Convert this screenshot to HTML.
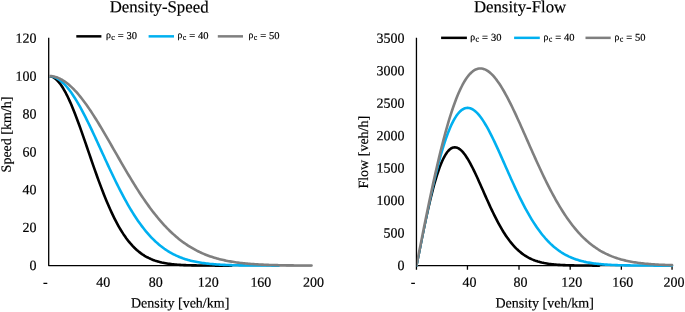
<!DOCTYPE html>
<html><head><meta charset="utf-8"><title>Density-Speed / Density-Flow</title>
<style>
html,body{margin:0;padding:0;background:#fff;}
svg{display:block;text-rendering:geometricPrecision;font-family:"Liberation Serif","DejaVu Serif",serif;fill:#000;}
text{stroke:#000;stroke-width:0.18px;}
.c{fill:none;stroke-width:2.6;stroke-linecap:round;stroke-linejoin:round;}
.ax{stroke:#000;stroke-width:1.3;stroke-linejoin:round;fill:none;}
.t{font-size:14px;}
.lg{font-size:10.5px;}
.ti{font-size:16.8px;}
</style></head><body>
<svg width="685" height="312" viewBox="0 0 685 312">
<rect width="685" height="312" fill="#fff"/>

<text class="ti" x="159.15" y="12.35" text-anchor="middle" transform="rotate(0.03 159.15 12.35)">Density-Speed</text>
<text class="t" x="36.45" y="269.95" text-anchor="end" transform="rotate(0.03 36.45 269.95)">0</text>
<text class="t" x="36.45" y="232.10" text-anchor="end" transform="rotate(0.03 36.45 232.10)">20</text>
<text class="t" x="36.45" y="194.25" text-anchor="end" transform="rotate(0.03 36.45 194.25)">40</text>
<text class="t" x="36.45" y="156.40" text-anchor="end" transform="rotate(0.03 36.45 156.40)">60</text>
<text class="t" x="36.45" y="118.55" text-anchor="end" transform="rotate(0.03 36.45 118.55)">80</text>
<text class="t" x="36.45" y="80.70" text-anchor="end" transform="rotate(0.03 36.45 80.70)">100</text>
<text class="t" x="36.45" y="42.85" text-anchor="end" transform="rotate(0.03 36.45 42.85)">120</text>
<text class="t" x="45.30" y="286.70" text-anchor="middle" transform="rotate(0.03 45.30 286.70)">-</text>
<text class="t" x="103.17" y="286.70" text-anchor="middle" transform="rotate(0.03 103.17 286.70)">40</text>
<text class="t" x="155.74" y="286.70" text-anchor="middle" transform="rotate(0.03 155.74 286.70)">80</text>
<text class="t" x="208.31" y="286.70" text-anchor="middle" transform="rotate(0.03 208.31 286.70)">120</text>
<text class="t" x="260.88" y="286.70" text-anchor="middle" transform="rotate(0.03 260.88 286.70)">160</text>
<text class="t" x="313.45" y="286.70" text-anchor="middle" transform="rotate(0.03 313.45 286.70)">200</text>
<text class="t" x="180.12" y="307.60" text-anchor="middle" transform="rotate(0.03 180.12 307.60)">Density [veh/km]</text>
<text class="t" transform="translate(10.9,134.5) rotate(-89.96)" text-anchor="middle">Speed [km/h]</text>
<path class="ax" d="M48.7,37.80 V265.6 H311.55"/>
<clipPath id="clipd"><rect x="49.00" y="0" width="266.85" height="268.10"/></clipPath>
<clipPath id="clipdu40"><polygon points="45.70,75.98 48.70,75.98 50.01,76.03 51.33,76.21 52.64,76.51 53.96,76.92 55.27,77.45 56.59,78.10 57.90,78.86 59.21,79.73 60.53,80.71 61.84,81.81 63.16,83.01 64.47,84.32 65.79,85.73 67.10,87.24 68.41,88.85 69.73,90.55 71.04,92.35 72.36,94.23 73.67,96.20 74.98,98.26 76.30,100.39 77.61,102.59 78.93,104.87 80.24,107.21 81.56,109.62 82.87,112.08 84.18,114.61 85.50,117.18 86.81,119.80 88.13,122.46 89.44,125.17 90.76,127.90 92.07,130.67 93.38,133.47 94.70,136.29 96.01,139.12 97.33,141.98 98.64,144.84 99.96,147.71 101.27,150.59 102.58,153.46 103.90,156.33 105.21,159.20 106.53,162.05 107.84,164.89 109.16,167.71 110.47,170.52 111.78,173.30 113.10,176.06 114.41,178.78 115.73,181.48 117.04,184.15 118.36,186.77 119.67,189.37 120.98,191.92 122.30,194.43 123.61,196.90 124.93,199.33 126.24,201.71 127.56,204.04 128.87,206.32 130.18,208.56 131.50,210.74 132.81,212.88 134.13,214.96 135.44,216.99 136.75,218.97 138.07,220.90 139.38,222.77 140.70,224.59 142.01,226.36 143.33,228.07 144.64,229.74 145.95,231.35 147.27,232.90 148.58,234.41 149.90,235.87 151.21,237.27 152.53,238.63 153.84,239.94 155.15,241.20 156.47,242.41 157.78,243.57 159.10,244.69 160.41,245.77 161.73,246.80 163.04,247.79 164.35,248.74 165.67,249.65 166.98,250.51 168.30,251.34 169.61,252.14 170.93,252.89 172.24,253.61 173.55,254.30 174.87,254.96 176.18,255.58 177.50,256.17 178.81,256.73 180.12,257.27 181.44,257.78 182.75,258.26 184.07,258.71 185.38,259.14 186.70,259.55 188.01,259.94 189.32,260.30 190.64,260.65 191.95,260.97 193.27,261.28 194.58,261.57 195.90,261.84 197.21,262.09 198.52,262.33 199.84,262.56 201.15,262.77 202.47,262.97 203.78,263.16 205.10,263.33 206.41,263.49 207.72,263.65 209.04,263.79 210.35,263.92 211.67,264.05 212.98,264.16 214.30,264.27 215.61,264.37 216.92,264.47 218.24,264.55 219.55,264.64 220.87,264.71 222.18,264.78 223.50,264.85 224.81,264.91 226.12,264.96 227.44,265.01 228.75,265.06 230.07,265.11 231.38,265.15 232.69,265.19 234.01,265.22 235.32,265.25 236.64,265.28 237.95,265.31 239.27,265.33 240.58,265.36 241.89,265.38 243.21,265.40 244.52,265.42 245.84,265.43 247.15,265.45 248.47,265.46 249.78,265.47 251.09,265.49 252.41,265.50 253.72,265.51 255.04,265.51 256.35,265.52 257.67,265.53 258.98,265.54 260.29,265.54 261.61,265.55 262.92,265.55 264.24,265.56 265.55,265.56 266.87,265.57 268.18,265.57 269.49,265.57 270.81,265.57 272.12,265.58 273.44,265.58 274.75,265.58 276.07,265.58 277.38,265.59 278.69,265.59 280.01,265.59 281.32,265.59 282.64,265.59 283.95,265.59 285.27,265.59 286.58,265.59 287.89,265.59 289.21,265.59 290.52,265.60 291.84,265.60 293.15,265.60 294.46,265.60 295.78,265.60 297.09,265.60 298.41,265.60 299.72,265.60 301.04,265.60 302.35,265.60 303.66,265.60 304.98,265.60 306.29,265.60 307.61,265.60 308.92,265.60 310.24,265.60 311.55,265.60 316.55,265.60 316.55,270.60 45.70,270.60"/></clipPath>
<clipPath id="clipdu50"><polygon points="45.70,75.98 48.70,75.98 50.01,76.01 51.33,76.13 52.64,76.32 53.96,76.58 55.27,76.92 56.59,77.34 57.90,77.82 59.21,78.39 60.53,79.02 61.84,79.73 63.16,80.51 64.47,81.36 65.79,82.28 67.10,83.26 68.41,84.32 69.73,85.44 71.04,86.62 72.36,87.87 73.67,89.18 74.98,90.55 76.30,91.98 77.61,93.47 78.93,95.01 80.24,96.61 81.56,98.26 82.87,99.95 84.18,101.70 85.50,103.49 86.81,105.33 88.13,107.21 89.44,109.13 90.76,111.09 92.07,113.09 93.38,115.12 94.70,117.18 96.01,119.27 97.33,121.39 98.64,123.54 99.96,125.71 101.27,127.90 102.58,130.12 103.90,132.35 105.21,134.59 106.53,136.85 107.84,139.12 109.16,141.41 110.47,143.69 111.78,145.99 113.10,148.29 114.41,150.59 115.73,152.89 117.04,155.18 118.36,157.48 119.67,159.77 120.98,162.05 122.30,164.32 123.61,166.59 124.93,168.84 126.24,171.08 127.56,173.30 128.87,175.51 130.18,177.70 131.50,179.87 132.81,182.02 134.13,184.15 135.44,186.25 136.75,188.33 138.07,190.39 139.38,192.43 140.70,194.43 142.01,196.41 143.33,198.36 144.64,200.28 145.95,202.18 147.27,204.04 148.58,205.87 149.90,207.67 151.21,209.44 152.53,211.17 153.84,212.88 155.15,214.55 156.47,216.19 157.78,217.79 159.10,219.36 160.41,220.90 161.73,222.40 163.04,223.87 164.35,225.30 165.67,226.71 166.98,228.07 168.30,229.41 169.61,230.71 170.93,231.98 172.24,233.21 173.55,234.41 174.87,235.58 176.18,236.72 177.50,237.82 178.81,238.90 180.12,239.94 181.44,240.95 182.75,241.93 184.07,242.88 185.38,243.80 186.70,244.69 188.01,245.56 189.32,246.39 190.64,247.20 191.95,247.98 193.27,248.74 194.58,249.47 195.90,250.17 197.21,250.85 198.52,251.50 199.84,252.14 201.15,252.74 202.47,253.33 203.78,253.89 205.10,254.43 206.41,254.96 207.72,255.46 209.04,255.94 210.35,256.40 211.67,256.84 212.98,257.27 214.30,257.68 215.61,258.07 216.92,258.44 218.24,258.80 219.55,259.14 220.87,259.47 222.18,259.79 223.50,260.09 224.81,260.37 226.12,260.65 227.44,260.91 228.75,261.16 230.07,261.40 231.38,261.62 232.69,261.84 234.01,262.04 235.32,262.24 236.64,262.43 237.95,262.60 239.27,262.77 240.58,262.93 241.89,263.08 243.21,263.23 244.52,263.36 245.84,263.49 247.15,263.62 248.47,263.73 249.78,263.84 251.09,263.95 252.41,264.05 253.72,264.14 255.04,264.23 256.35,264.31 257.67,264.39 258.98,264.47 260.29,264.54 261.61,264.60 262.92,264.67 264.24,264.73 265.55,264.78 266.87,264.83 268.18,264.88 269.49,264.93 270.81,264.97 272.12,265.01 273.44,265.05 274.75,265.09 276.07,265.12 277.38,265.16 278.69,265.19 280.01,265.21 281.32,265.24 282.64,265.26 283.95,265.29 285.27,265.31 286.58,265.33 287.89,265.35 289.21,265.37 290.52,265.38 291.84,265.40 293.15,265.41 294.46,265.43 295.78,265.44 297.09,265.45 298.41,265.46 299.72,265.47 301.04,265.48 302.35,265.49 303.66,265.50 304.98,265.51 306.29,265.51 307.61,265.52 308.92,265.53 310.24,265.53 311.55,265.54 316.55,265.54 316.55,270.60 45.70,270.60"/></clipPath>
<g clip-path="url(#clipd)">
<g clip-path="url(#clipdu40)"><polyline class="c" stroke="#000000" points="48.70,75.98 50.01,76.08 51.33,76.40 52.64,76.92 53.96,77.65 55.27,78.59 56.59,79.73 57.90,81.07 59.21,82.60 60.53,84.32 61.84,86.22 63.16,88.30 64.47,90.55 65.79,92.97 67.10,95.54 68.41,98.26 69.73,101.11 71.04,104.10 72.36,107.21 73.67,110.43 74.98,113.76 76.30,117.18 77.61,120.68 78.93,124.26 80.24,127.90 81.56,131.60 82.87,135.35 84.18,139.12 85.50,142.93 86.81,146.75 88.13,150.59 89.44,154.42 90.76,158.24 92.07,162.05 93.38,165.83 94.70,169.59 96.01,173.30 97.33,176.97 98.64,180.59 99.96,184.15 101.27,187.64 102.58,191.07 103.90,194.43 105.21,197.71 106.53,200.92 107.84,204.04 109.16,207.07 110.47,210.02 111.78,212.88 113.10,215.64 114.41,218.32 115.73,220.90 117.04,223.38 118.36,225.78 119.67,228.07 120.98,230.28 122.30,232.39 123.61,234.41 124.93,236.34 126.24,238.18 127.56,239.94 128.87,241.61 130.18,243.19 131.50,244.69 132.81,246.12 134.13,247.47 135.44,248.74 136.75,249.94 138.07,251.07 139.38,252.14 140.70,253.14 142.01,254.08 143.33,254.96 144.64,255.78 145.95,256.55 147.27,257.27 148.58,257.94 149.90,258.56 151.21,259.14 152.53,259.68 153.84,260.18 155.15,260.65 156.47,261.08 157.78,261.47 159.10,261.84 160.41,262.17 161.73,262.49 163.04,262.77 164.35,263.03 165.67,263.27 166.98,263.49 168.30,263.69 169.61,263.88 170.93,264.05 172.24,264.20 173.55,264.34 174.87,264.47 176.18,264.58 177.50,264.69 178.81,264.78 180.12,264.87 181.44,264.94 182.75,265.01 184.07,265.08 185.38,265.13 186.70,265.19 188.01,265.23 189.32,265.27 190.64,265.31 191.95,265.34 193.27,265.37 194.58,265.40 195.90,265.42 197.21,265.44 198.52,265.46 199.84,265.48 201.15,265.49 202.47,265.51 203.78,265.52 205.10,265.53 206.41,265.54 207.72,265.54 209.04,265.55 210.35,265.56 211.67,265.56 212.98,265.57 214.30,265.57 215.61,265.58 216.92,265.58 218.24,265.58 219.55,265.58 220.87,265.59 222.18,265.59 223.50,265.59 224.81,265.59 226.12,265.59 227.44,265.59 228.75,265.59 230.07,265.60 231.38,265.60"/></g>
<g clip-path="url(#clipdu50)"><polyline class="c" stroke="#00b0f0" points="48.70,75.98 50.01,76.03 51.33,76.21 52.64,76.51 53.96,76.92 55.27,77.45 56.59,78.10 57.90,78.86 59.21,79.73 60.53,80.71 61.84,81.81 63.16,83.01 64.47,84.32 65.79,85.73 67.10,87.24 68.41,88.85 69.73,90.55 71.04,92.35 72.36,94.23 73.67,96.20 74.98,98.26 76.30,100.39 77.61,102.59 78.93,104.87 80.24,107.21 81.56,109.62 82.87,112.08 84.18,114.61 85.50,117.18 86.81,119.80 88.13,122.46 89.44,125.17 90.76,127.90 92.07,130.67 93.38,133.47 94.70,136.29 96.01,139.12 97.33,141.98 98.64,144.84 99.96,147.71 101.27,150.59 102.58,153.46 103.90,156.33 105.21,159.20 106.53,162.05 107.84,164.89 109.16,167.71 110.47,170.52 111.78,173.30 113.10,176.06 114.41,178.78 115.73,181.48 117.04,184.15 118.36,186.77 119.67,189.37 120.98,191.92 122.30,194.43 123.61,196.90 124.93,199.33 126.24,201.71 127.56,204.04 128.87,206.32 130.18,208.56 131.50,210.74 132.81,212.88 134.13,214.96 135.44,216.99 136.75,218.97 138.07,220.90 139.38,222.77 140.70,224.59 142.01,226.36 143.33,228.07 144.64,229.74 145.95,231.35 147.27,232.90 148.58,234.41 149.90,235.87 151.21,237.27 152.53,238.63 153.84,239.94 155.15,241.20 156.47,242.41 157.78,243.57 159.10,244.69 160.41,245.77 161.73,246.80 163.04,247.79 164.35,248.74 165.67,249.65 166.98,250.51 168.30,251.34 169.61,252.14 170.93,252.89 172.24,253.61 173.55,254.30 174.87,254.96 176.18,255.58 177.50,256.17 178.81,256.73 180.12,257.27 181.44,257.78 182.75,258.26 184.07,258.71 185.38,259.14 186.70,259.55 188.01,259.94 189.32,260.30 190.64,260.65 191.95,260.97 193.27,261.28 194.58,261.57 195.90,261.84 197.21,262.09 198.52,262.33 199.84,262.56 201.15,262.77 202.47,262.97 203.78,263.16 205.10,263.33 206.41,263.49 207.72,263.65 209.04,263.79 210.35,263.92 211.67,264.05 212.98,264.16 214.30,264.27 215.61,264.37 216.92,264.47 218.24,264.55 219.55,264.64 220.87,264.71 222.18,264.78 223.50,264.85 224.81,264.91 226.12,264.96 227.44,265.01 228.75,265.06 230.07,265.11 231.38,265.15 232.69,265.19 234.01,265.22 235.32,265.25 236.64,265.28 237.95,265.31 239.27,265.33 240.58,265.36 241.89,265.38 243.21,265.40 244.52,265.42 245.84,265.43 247.15,265.45 248.47,265.46 249.78,265.47 251.09,265.49 252.41,265.50 253.72,265.51 255.04,265.51 256.35,265.52 257.67,265.53 258.98,265.54 260.29,265.54 261.61,265.55 262.92,265.55 264.24,265.56 265.55,265.56 266.87,265.57 268.18,265.57 269.49,265.57 270.81,265.57 272.12,265.58 273.44,265.58 274.75,265.58 276.07,265.58 277.38,265.59 278.69,265.59"/></g>
<polyline class="c" stroke="#7f7f7f" points="48.70,75.98 50.01,76.01 51.33,76.13 52.64,76.32 53.96,76.58 55.27,76.92 56.59,77.34 57.90,77.82 59.21,78.39 60.53,79.02 61.84,79.73 63.16,80.51 64.47,81.36 65.79,82.28 67.10,83.26 68.41,84.32 69.73,85.44 71.04,86.62 72.36,87.87 73.67,89.18 74.98,90.55 76.30,91.98 77.61,93.47 78.93,95.01 80.24,96.61 81.56,98.26 82.87,99.95 84.18,101.70 85.50,103.49 86.81,105.33 88.13,107.21 89.44,109.13 90.76,111.09 92.07,113.09 93.38,115.12 94.70,117.18 96.01,119.27 97.33,121.39 98.64,123.54 99.96,125.71 101.27,127.90 102.58,130.12 103.90,132.35 105.21,134.59 106.53,136.85 107.84,139.12 109.16,141.41 110.47,143.69 111.78,145.99 113.10,148.29 114.41,150.59 115.73,152.89 117.04,155.18 118.36,157.48 119.67,159.77 120.98,162.05 122.30,164.32 123.61,166.59 124.93,168.84 126.24,171.08 127.56,173.30 128.87,175.51 130.18,177.70 131.50,179.87 132.81,182.02 134.13,184.15 135.44,186.25 136.75,188.33 138.07,190.39 139.38,192.43 140.70,194.43 142.01,196.41 143.33,198.36 144.64,200.28 145.95,202.18 147.27,204.04 148.58,205.87 149.90,207.67 151.21,209.44 152.53,211.17 153.84,212.88 155.15,214.55 156.47,216.19 157.78,217.79 159.10,219.36 160.41,220.90 161.73,222.40 163.04,223.87 164.35,225.30 165.67,226.71 166.98,228.07 168.30,229.41 169.61,230.71 170.93,231.98 172.24,233.21 173.55,234.41 174.87,235.58 176.18,236.72 177.50,237.82 178.81,238.90 180.12,239.94 181.44,240.95 182.75,241.93 184.07,242.88 185.38,243.80 186.70,244.69 188.01,245.56 189.32,246.39 190.64,247.20 191.95,247.98 193.27,248.74 194.58,249.47 195.90,250.17 197.21,250.85 198.52,251.50 199.84,252.14 201.15,252.74 202.47,253.33 203.78,253.89 205.10,254.43 206.41,254.96 207.72,255.46 209.04,255.94 210.35,256.40 211.67,256.84 212.98,257.27 214.30,257.68 215.61,258.07 216.92,258.44 218.24,258.80 219.55,259.14 220.87,259.47 222.18,259.79 223.50,260.09 224.81,260.37 226.12,260.65 227.44,260.91 228.75,261.16 230.07,261.40 231.38,261.62 232.69,261.84 234.01,262.04 235.32,262.24 236.64,262.43 237.95,262.60 239.27,262.77 240.58,262.93 241.89,263.08 243.21,263.23 244.52,263.36 245.84,263.49 247.15,263.62 248.47,263.73 249.78,263.84 251.09,263.95 252.41,264.05 253.72,264.14 255.04,264.23 256.35,264.31 257.67,264.39 258.98,264.47 260.29,264.54 261.61,264.60 262.92,264.67 264.24,264.73 265.55,264.78 266.87,264.83 268.18,264.88 269.49,264.93 270.81,264.97 272.12,265.01 273.44,265.05 274.75,265.09 276.07,265.12 277.38,265.16 278.69,265.19 280.01,265.21 281.32,265.24 282.64,265.26 283.95,265.29 285.27,265.31 286.58,265.33 287.89,265.35 289.21,265.37 290.52,265.38 291.84,265.40 293.15,265.41 294.46,265.43 295.78,265.44 297.09,265.45 298.41,265.46 299.72,265.47 301.04,265.48 302.35,265.49 303.66,265.50 304.98,265.51 306.29,265.51 307.61,265.52 308.92,265.53 310.24,265.53 311.55,265.54"/>
</g>
<line x1="76.3" x2="101.4" y1="36.35" y2="36.35" stroke="#000000" stroke-width="2.5"/>
<text class="lg" x="105.90" y="38.90" transform="rotate(0.03 105.90 38.90)"><tspan font-size="9.8" dy="-0.8">ρ</tspan><tspan font-size="8" dy="1.7" x="111.20">c</tspan><tspan dy="-0.9" x="117.70">=</tspan><tspan x="126.50">30</tspan></text>
<line x1="148.6" x2="174.0" y1="36.35" y2="36.35" stroke="#00b0f0" stroke-width="2.5"/>
<text class="lg" x="177.50" y="38.90" transform="rotate(0.03 177.50 38.90)"><tspan font-size="9.8" dy="-0.8">ρ</tspan><tspan font-size="8" dy="1.7" x="182.80">c</tspan><tspan dy="-0.9" x="189.30">=</tspan><tspan x="198.10">40</tspan></text>
<line x1="217.8" x2="243.0" y1="36.35" y2="36.35" stroke="#7f7f7f" stroke-width="2.5"/>
<text class="lg" x="248.40" y="38.90" transform="rotate(0.03 248.40 38.90)"><tspan font-size="9.8" dy="-0.8">ρ</tspan><tspan font-size="8" dy="1.7" x="253.70">c</tspan><tspan dy="-0.9" x="260.20">=</tspan><tspan x="269.00">50</tspan></text>
<text class="ti" x="520.05" y="12.35" text-anchor="middle" transform="rotate(0.03 520.05 12.35)">Density-Flow</text>
<text class="t" x="404.50" y="269.95" text-anchor="end" transform="rotate(0.03 404.50 269.95)">0</text>
<text class="t" x="404.50" y="237.51" text-anchor="end" transform="rotate(0.03 404.50 237.51)">500</text>
<text class="t" x="404.50" y="205.06" text-anchor="end" transform="rotate(0.03 404.50 205.06)">1000</text>
<text class="t" x="404.50" y="172.62" text-anchor="end" transform="rotate(0.03 404.50 172.62)">1500</text>
<text class="t" x="404.50" y="140.18" text-anchor="end" transform="rotate(0.03 404.50 140.18)">2000</text>
<text class="t" x="404.50" y="107.74" text-anchor="end" transform="rotate(0.03 404.50 107.74)">2500</text>
<text class="t" x="404.50" y="75.29" text-anchor="end" transform="rotate(0.03 404.50 75.29)">3000</text>
<text class="t" x="404.50" y="42.85" text-anchor="end" transform="rotate(0.03 404.50 42.85)">3500</text>
<text class="t" x="413.05" y="286.70" text-anchor="middle" transform="rotate(0.03 413.05 286.70)">-</text>
<text class="t" x="469.47" y="286.70" text-anchor="middle" transform="rotate(0.03 469.47 286.70)">40</text>
<text class="t" x="520.59" y="286.70" text-anchor="middle" transform="rotate(0.03 520.59 286.70)">80</text>
<text class="t" x="571.71" y="286.70" text-anchor="middle" transform="rotate(0.03 571.71 286.70)">120</text>
<text class="t" x="622.83" y="286.70" text-anchor="middle" transform="rotate(0.03 622.83 286.70)">160</text>
<text class="t" x="673.95" y="286.70" text-anchor="middle" transform="rotate(0.03 673.95 286.70)">200</text>
<text class="t" x="544.65" y="307.60" text-anchor="middle" transform="rotate(0.03 544.65 307.60)">Density [veh/km]</text>
<text class="t" transform="translate(368.1,152.2) rotate(-89.96)" text-anchor="middle">Flow [veh/h]</text>
<path class="ax" d="M416.45,37.80 V265.6 H672.05 M416.45,265.6 v4.25 M467.45,265.6 v4.25 M519.00,265.6 v4.25 M570.20,265.6 v4.25 M621.35,265.6 v4.25 M672.05,265.6 v4.25"/>
<clipPath id="clipw"><rect x="416.75" y="0" width="259.60" height="268.10"/></clipPath>
<clipPath id="clipwu40"><polygon points="413.45,265.60 416.45,265.60 417.73,259.10 419.01,252.61 420.28,246.15 421.56,239.72 422.84,233.35 424.12,227.03 425.40,220.78 426.67,214.62 427.95,208.55 429.23,202.59 430.51,196.74 431.79,191.02 433.06,185.43 434.34,179.99 435.62,174.70 436.90,169.57 438.18,164.62 439.45,159.84 440.73,155.25 442.01,150.85 443.29,146.65 444.57,142.65 445.84,138.85 447.12,135.27 448.40,131.90 449.68,128.75 450.96,125.82 452.23,123.12 453.51,120.63 454.79,118.37 456.07,116.34 457.35,114.53 458.62,112.94 459.90,111.57 461.18,110.42 462.46,109.49 463.74,108.78 465.01,108.27 466.29,107.97 467.57,107.87 468.85,107.97 470.13,108.25 471.40,108.73 472.68,109.39 473.96,110.22 475.24,111.22 476.52,112.38 477.79,113.70 479.07,115.17 480.35,116.77 481.63,118.51 482.91,120.38 484.18,122.36 485.46,124.46 486.74,126.66 488.02,128.96 489.30,131.34 490.57,133.81 491.85,136.35 493.13,138.96 494.41,141.62 495.69,144.34 496.96,147.11 498.24,149.91 499.52,152.75 500.80,155.61 502.08,158.49 503.35,161.38 504.63,164.28 505.91,167.18 507.19,170.07 508.47,172.96 509.74,175.84 511.02,178.69 512.30,181.53 513.58,184.33 514.86,187.11 516.13,189.85 517.41,192.55 518.69,195.21 519.97,197.83 521.25,200.40 522.52,202.92 523.80,205.39 525.08,207.81 526.36,210.17 527.64,212.48 528.91,214.73 530.19,216.92 531.47,219.05 532.75,221.12 534.03,223.13 535.30,225.08 536.58,226.97 537.86,228.80 539.14,230.56 540.42,232.27 541.69,233.92 542.97,235.51 544.25,237.03 545.53,238.51 546.81,239.92 548.08,241.28 549.36,242.58 550.64,243.83 551.92,245.02 553.20,246.17 554.47,247.26 555.75,248.30 557.03,249.30 558.31,250.25 559.59,251.15 560.86,252.01 562.14,252.83 563.42,253.61 564.70,254.35 565.98,255.05 567.25,255.71 568.53,256.34 569.81,256.93 571.09,257.49 572.37,258.03 573.64,258.53 574.92,259.00 576.20,259.44 577.48,259.86 578.76,260.26 580.03,260.63 581.31,260.97 582.59,261.30 583.87,261.61 585.15,261.89 586.42,262.16 587.70,262.41 588.98,262.65 590.26,262.87 591.54,263.07 592.81,263.26 594.09,263.44 595.37,263.61 596.65,263.76 597.93,263.91 599.20,264.04 600.48,264.16 601.76,264.28 603.04,264.39 604.32,264.48 605.59,264.58 606.87,264.66 608.15,264.74 609.43,264.81 610.71,264.88 611.98,264.94 613.26,264.99 614.54,265.05 615.82,265.09 617.10,265.14 618.37,265.18 619.65,265.22 620.93,265.25 622.21,265.28 623.49,265.31 624.76,265.34 626.04,265.36 627.32,265.38 628.60,265.40 629.88,265.42 631.15,265.44 632.43,265.45 633.71,265.47 634.99,265.48 636.27,265.49 637.54,265.50 638.82,265.51 640.10,265.52 641.38,265.53 642.66,265.54 643.93,265.54 645.21,265.55 646.49,265.55 647.77,265.56 649.05,265.56 650.32,265.57 651.60,265.57 652.88,265.57 654.16,265.58 655.44,265.58 656.71,265.58 657.99,265.58 659.27,265.58 660.55,265.59 661.83,265.59 663.10,265.59 664.38,265.59 665.66,265.59 666.94,265.59 668.22,265.59 669.49,265.59 670.77,265.59 672.05,265.60 677.05,265.60 677.05,270.60 413.45,270.60"/></clipPath>
<clipPath id="clipwu50"><polygon points="413.45,265.60 416.45,265.60 417.73,259.10 419.01,252.61 420.28,246.13 421.56,239.68 422.84,233.25 424.12,226.87 425.40,220.53 426.67,214.25 427.95,208.03 429.23,201.87 430.51,195.79 431.79,189.80 433.06,183.89 434.34,178.08 435.62,172.37 436.90,166.77 438.18,161.28 439.45,155.92 440.73,150.68 442.01,145.57 443.29,140.60 444.57,135.77 445.84,131.08 447.12,126.54 448.40,122.16 449.68,117.94 450.96,113.88 452.23,109.98 453.51,106.25 454.79,102.69 456.07,99.30 457.35,96.08 458.62,93.04 459.90,90.18 461.18,87.50 462.46,84.99 463.74,82.66 465.01,80.52 466.29,78.55 467.57,76.76 468.85,75.15 470.13,73.72 471.40,72.46 472.68,71.38 473.96,70.47 475.24,69.73 476.52,69.16 477.79,68.75 479.07,68.51 480.35,68.43 481.63,68.51 482.91,68.75 484.18,69.13 485.46,69.66 486.74,70.34 488.02,71.15 489.30,72.10 490.57,73.18 491.85,74.39 493.13,75.72 494.41,77.18 495.69,78.74 496.96,80.41 498.24,82.19 499.52,84.07 500.80,86.05 502.08,88.11 503.35,90.26 504.63,92.49 505.91,94.80 507.19,97.17 508.47,99.62 509.74,102.12 511.02,104.68 512.30,107.30 513.58,109.96 514.86,112.66 516.13,115.41 517.41,118.18 518.69,120.99 519.97,123.82 521.25,126.67 522.52,129.54 523.80,132.43 525.08,135.32 526.36,138.22 527.64,141.12 528.91,144.02 530.19,146.92 531.47,149.80 532.75,152.68 534.03,155.54 535.30,158.39 536.58,161.21 537.86,164.01 539.14,166.79 540.42,169.54 541.69,172.27 542.97,174.96 544.25,177.61 545.53,180.23 546.81,182.82 548.08,185.37 549.36,187.87 550.64,190.34 551.92,192.76 553.20,195.14 554.47,197.47 555.75,199.76 557.03,202.01 558.31,204.20 559.59,206.35 560.86,208.45 562.14,210.51 563.42,212.51 564.70,214.47 565.98,216.38 567.25,218.23 568.53,220.04 569.81,221.81 571.09,223.52 572.37,225.18 573.64,226.80 574.92,228.37 576.20,229.89 577.48,231.37 578.76,232.80 580.03,234.19 581.31,235.53 582.59,236.82 583.87,238.08 585.15,239.29 586.42,240.46 587.70,241.59 588.98,242.67 590.26,243.72 591.54,244.73 592.81,245.70 594.09,246.64 595.37,247.54 596.65,248.41 597.93,249.24 599.20,250.03 600.48,250.80 601.76,251.53 603.04,252.24 604.32,252.91 605.59,253.56 606.87,254.18 608.15,254.77 609.43,255.33 610.71,255.87 611.98,256.39 613.26,256.88 614.54,257.35 615.82,257.80 617.10,258.22 618.37,258.63 619.65,259.02 620.93,259.38 622.21,259.73 623.49,260.07 624.76,260.38 626.04,260.68 627.32,260.97 628.60,261.24 629.88,261.49 631.15,261.74 632.43,261.97 633.71,262.19 634.99,262.39 636.27,262.59 637.54,262.77 638.82,262.95 640.10,263.11 641.38,263.27 642.66,263.41 643.93,263.55 645.21,263.68 646.49,263.81 647.77,263.92 649.05,264.03 650.32,264.13 651.60,264.23 652.88,264.32 654.16,264.40 655.44,264.48 656.71,264.56 657.99,264.63 659.27,264.70 660.55,264.76 661.83,264.82 663.10,264.87 664.38,264.92 665.66,264.97 666.94,265.01 668.22,265.05 669.49,265.09 670.77,265.13 672.05,265.16 677.05,265.16 677.05,270.60 413.45,270.60"/></clipPath>
<g clip-path="url(#clipw)">
<g clip-path="url(#clipwu40)"><polyline class="c" stroke="#000000" points="416.45,265.60 417.73,259.10 419.01,252.63 420.28,246.19 421.56,239.82 422.84,233.54 424.12,227.36 425.40,221.31 426.67,215.41 427.95,209.66 429.23,204.10 430.51,198.73 431.79,193.58 433.06,188.66 434.34,183.97 435.62,179.54 436.90,175.37 438.18,171.47 439.45,167.85 440.73,164.52 442.01,161.48 443.29,158.74 444.57,156.29 445.84,154.14 447.12,152.30 448.40,150.74 449.68,149.49 450.96,148.52 452.23,147.84 453.51,147.43 454.79,147.30 456.07,147.43 457.35,147.81 458.62,148.44 459.90,149.30 461.18,150.38 462.46,151.67 463.74,153.16 465.01,154.84 466.29,156.68 467.57,158.69 468.85,160.84 470.13,163.12 471.40,165.52 472.68,168.02 473.96,170.62 475.24,173.29 476.52,176.04 477.79,178.83 479.07,181.67 480.35,184.54 481.63,187.43 482.91,190.33 484.18,193.23 485.46,196.12 486.74,198.99 488.02,201.84 489.30,204.65 490.57,207.42 491.85,210.14 493.13,212.81 494.41,215.42 495.69,217.96 496.96,220.44 498.24,222.85 499.52,225.19 500.80,227.44 502.08,229.62 503.35,231.73 504.63,233.75 505.91,235.69 507.19,237.55 508.47,239.32 509.74,241.02 511.02,242.64 512.30,244.18 513.58,245.64 514.86,247.02 516.13,248.33 517.41,249.57 518.69,250.74 519.97,251.84 521.25,252.88 522.52,253.85 523.80,254.76 525.08,255.62 526.36,256.42 527.64,257.16 528.91,257.85 530.19,258.50 531.47,259.10 532.75,259.66 534.03,260.17 535.30,260.65 536.58,261.09 537.86,261.50 539.14,261.87 540.42,262.21 541.69,262.53 542.97,262.82 544.25,263.09 545.53,263.33 546.81,263.55 548.08,263.75 549.36,263.94 550.64,264.11 551.92,264.26 553.20,264.40 554.47,264.52 555.75,264.64 557.03,264.74 558.31,264.83 559.59,264.92 560.86,264.99 562.14,265.06 563.42,265.12 564.70,265.17 565.98,265.22 567.25,265.26 568.53,265.30 569.81,265.34 571.09,265.37 572.37,265.40 573.64,265.42 574.92,265.44 576.20,265.46 577.48,265.48 578.76,265.49 580.03,265.51 581.31,265.52 582.59,265.53 583.87,265.54 585.15,265.55 586.42,265.55 587.70,265.56 588.98,265.56 590.26,265.57 591.54,265.57 592.81,265.58 594.09,265.58 595.37,265.58 596.65,265.59 597.93,265.59 599.20,265.59"/></g>
<g clip-path="url(#clipwu50)"><polyline class="c" stroke="#00b0f0" points="416.45,265.60 417.73,259.10 419.01,252.61 420.28,246.15 421.56,239.72 422.84,233.35 424.12,227.03 425.40,220.78 426.67,214.62 427.95,208.55 429.23,202.59 430.51,196.74 431.79,191.02 433.06,185.43 434.34,179.99 435.62,174.70 436.90,169.57 438.18,164.62 439.45,159.84 440.73,155.25 442.01,150.85 443.29,146.65 444.57,142.65 445.84,138.85 447.12,135.27 448.40,131.90 449.68,128.75 450.96,125.82 452.23,123.12 453.51,120.63 454.79,118.37 456.07,116.34 457.35,114.53 458.62,112.94 459.90,111.57 461.18,110.42 462.46,109.49 463.74,108.78 465.01,108.27 466.29,107.97 467.57,107.87 468.85,107.97 470.13,108.25 471.40,108.73 472.68,109.39 473.96,110.22 475.24,111.22 476.52,112.38 477.79,113.70 479.07,115.17 480.35,116.77 481.63,118.51 482.91,120.38 484.18,122.36 485.46,124.46 486.74,126.66 488.02,128.96 489.30,131.34 490.57,133.81 491.85,136.35 493.13,138.96 494.41,141.62 495.69,144.34 496.96,147.11 498.24,149.91 499.52,152.75 500.80,155.61 502.08,158.49 503.35,161.38 504.63,164.28 505.91,167.18 507.19,170.07 508.47,172.96 509.74,175.84 511.02,178.69 512.30,181.53 513.58,184.33 514.86,187.11 516.13,189.85 517.41,192.55 518.69,195.21 519.97,197.83 521.25,200.40 522.52,202.92 523.80,205.39 525.08,207.81 526.36,210.17 527.64,212.48 528.91,214.73 530.19,216.92 531.47,219.05 532.75,221.12 534.03,223.13 535.30,225.08 536.58,226.97 537.86,228.80 539.14,230.56 540.42,232.27 541.69,233.92 542.97,235.51 544.25,237.03 545.53,238.51 546.81,239.92 548.08,241.28 549.36,242.58 550.64,243.83 551.92,245.02 553.20,246.17 554.47,247.26 555.75,248.30 557.03,249.30 558.31,250.25 559.59,251.15 560.86,252.01 562.14,252.83 563.42,253.61 564.70,254.35 565.98,255.05 567.25,255.71 568.53,256.34 569.81,256.93 571.09,257.49 572.37,258.03 573.64,258.53 574.92,259.00 576.20,259.44 577.48,259.86 578.76,260.26 580.03,260.63 581.31,260.97 582.59,261.30 583.87,261.61 585.15,261.89 586.42,262.16 587.70,262.41 588.98,262.65 590.26,262.87 591.54,263.07 592.81,263.26 594.09,263.44 595.37,263.61 596.65,263.76 597.93,263.91 599.20,264.04 600.48,264.16 601.76,264.28 603.04,264.39 604.32,264.48 605.59,264.58 606.87,264.66 608.15,264.74 609.43,264.81 610.71,264.88 611.98,264.94 613.26,264.99 614.54,265.05 615.82,265.09 617.10,265.14 618.37,265.18 619.65,265.22 620.93,265.25 622.21,265.28 623.49,265.31 624.76,265.34 626.04,265.36 627.32,265.38 628.60,265.40 629.88,265.42 631.15,265.44 632.43,265.45 633.71,265.47 634.99,265.48 636.27,265.49 637.54,265.50 638.82,265.51 640.10,265.52 641.38,265.53 642.66,265.54 643.93,265.54 645.21,265.55 646.49,265.55 647.77,265.56 649.05,265.56 650.32,265.57 651.60,265.57 652.88,265.57 654.16,265.58 655.44,265.58 656.71,265.58 657.99,265.58 659.27,265.58 660.55,265.59 661.83,265.59 663.10,265.59 664.38,265.59 665.66,265.59 666.94,265.59 668.22,265.59 669.49,265.59 670.77,265.59 672.05,265.60"/></g>
<polyline class="c" stroke="#7f7f7f" points="416.45,265.60 417.73,259.10 419.01,252.61 420.28,246.13 421.56,239.68 422.84,233.25 424.12,226.87 425.40,220.53 426.67,214.25 427.95,208.03 429.23,201.87 430.51,195.79 431.79,189.80 433.06,183.89 434.34,178.08 435.62,172.37 436.90,166.77 438.18,161.28 439.45,155.92 440.73,150.68 442.01,145.57 443.29,140.60 444.57,135.77 445.84,131.08 447.12,126.54 448.40,122.16 449.68,117.94 450.96,113.88 452.23,109.98 453.51,106.25 454.79,102.69 456.07,99.30 457.35,96.08 458.62,93.04 459.90,90.18 461.18,87.50 462.46,84.99 463.74,82.66 465.01,80.52 466.29,78.55 467.57,76.76 468.85,75.15 470.13,73.72 471.40,72.46 472.68,71.38 473.96,70.47 475.24,69.73 476.52,69.16 477.79,68.75 479.07,68.51 480.35,68.43 481.63,68.51 482.91,68.75 484.18,69.13 485.46,69.66 486.74,70.34 488.02,71.15 489.30,72.10 490.57,73.18 491.85,74.39 493.13,75.72 494.41,77.18 495.69,78.74 496.96,80.41 498.24,82.19 499.52,84.07 500.80,86.05 502.08,88.11 503.35,90.26 504.63,92.49 505.91,94.80 507.19,97.17 508.47,99.62 509.74,102.12 511.02,104.68 512.30,107.30 513.58,109.96 514.86,112.66 516.13,115.41 517.41,118.18 518.69,120.99 519.97,123.82 521.25,126.67 522.52,129.54 523.80,132.43 525.08,135.32 526.36,138.22 527.64,141.12 528.91,144.02 530.19,146.92 531.47,149.80 532.75,152.68 534.03,155.54 535.30,158.39 536.58,161.21 537.86,164.01 539.14,166.79 540.42,169.54 541.69,172.27 542.97,174.96 544.25,177.61 545.53,180.23 546.81,182.82 548.08,185.37 549.36,187.87 550.64,190.34 551.92,192.76 553.20,195.14 554.47,197.47 555.75,199.76 557.03,202.01 558.31,204.20 559.59,206.35 560.86,208.45 562.14,210.51 563.42,212.51 564.70,214.47 565.98,216.38 567.25,218.23 568.53,220.04 569.81,221.81 571.09,223.52 572.37,225.18 573.64,226.80 574.92,228.37 576.20,229.89 577.48,231.37 578.76,232.80 580.03,234.19 581.31,235.53 582.59,236.82 583.87,238.08 585.15,239.29 586.42,240.46 587.70,241.59 588.98,242.67 590.26,243.72 591.54,244.73 592.81,245.70 594.09,246.64 595.37,247.54 596.65,248.41 597.93,249.24 599.20,250.03 600.48,250.80 601.76,251.53 603.04,252.24 604.32,252.91 605.59,253.56 606.87,254.18 608.15,254.77 609.43,255.33 610.71,255.87 611.98,256.39 613.26,256.88 614.54,257.35 615.82,257.80 617.10,258.22 618.37,258.63 619.65,259.02 620.93,259.38 622.21,259.73 623.49,260.07 624.76,260.38 626.04,260.68 627.32,260.97 628.60,261.24 629.88,261.49 631.15,261.74 632.43,261.97 633.71,262.19 634.99,262.39 636.27,262.59 637.54,262.77 638.82,262.95 640.10,263.11 641.38,263.27 642.66,263.41 643.93,263.55 645.21,263.68 646.49,263.81 647.77,263.92 649.05,264.03 650.32,264.13 651.60,264.23 652.88,264.32 654.16,264.40 655.44,264.48 656.71,264.56 657.99,264.63 659.27,264.70 660.55,264.76 661.83,264.82 663.10,264.87 664.38,264.92 665.66,264.97 666.94,265.01 668.22,265.05 669.49,265.09 670.77,265.13 672.05,265.16"/>
</g>
<line x1="441.1" x2="466.9" y1="37.85" y2="37.85" stroke="#000000" stroke-width="2.5"/>
<text class="lg" x="470.30" y="40.70" transform="rotate(0.03 470.30 40.70)"><tspan font-size="9.8" dy="-0.8">ρ</tspan><tspan font-size="8" dy="1.7" x="475.60">c</tspan><tspan dy="-0.9" x="482.10">=</tspan><tspan x="490.90">30</tspan></text>
<line x1="514.1" x2="539.8" y1="37.85" y2="37.85" stroke="#00b0f0" stroke-width="2.5"/>
<text class="lg" x="543.50" y="40.70" transform="rotate(0.03 543.50 40.70)"><tspan font-size="9.8" dy="-0.8">ρ</tspan><tspan font-size="8" dy="1.7" x="548.80">c</tspan><tspan dy="-0.9" x="555.30">=</tspan><tspan x="564.10">40</tspan></text>
<line x1="585.5" x2="610.7" y1="37.85" y2="37.85" stroke="#7f7f7f" stroke-width="2.5"/>
<text class="lg" x="614.50" y="40.70" transform="rotate(0.03 614.50 40.70)"><tspan font-size="9.8" dy="-0.8">ρ</tspan><tspan font-size="8" dy="1.7" x="619.80">c</tspan><tspan dy="-0.9" x="626.30">=</tspan><tspan x="635.10">50</tspan></text>
</svg></body></html>
